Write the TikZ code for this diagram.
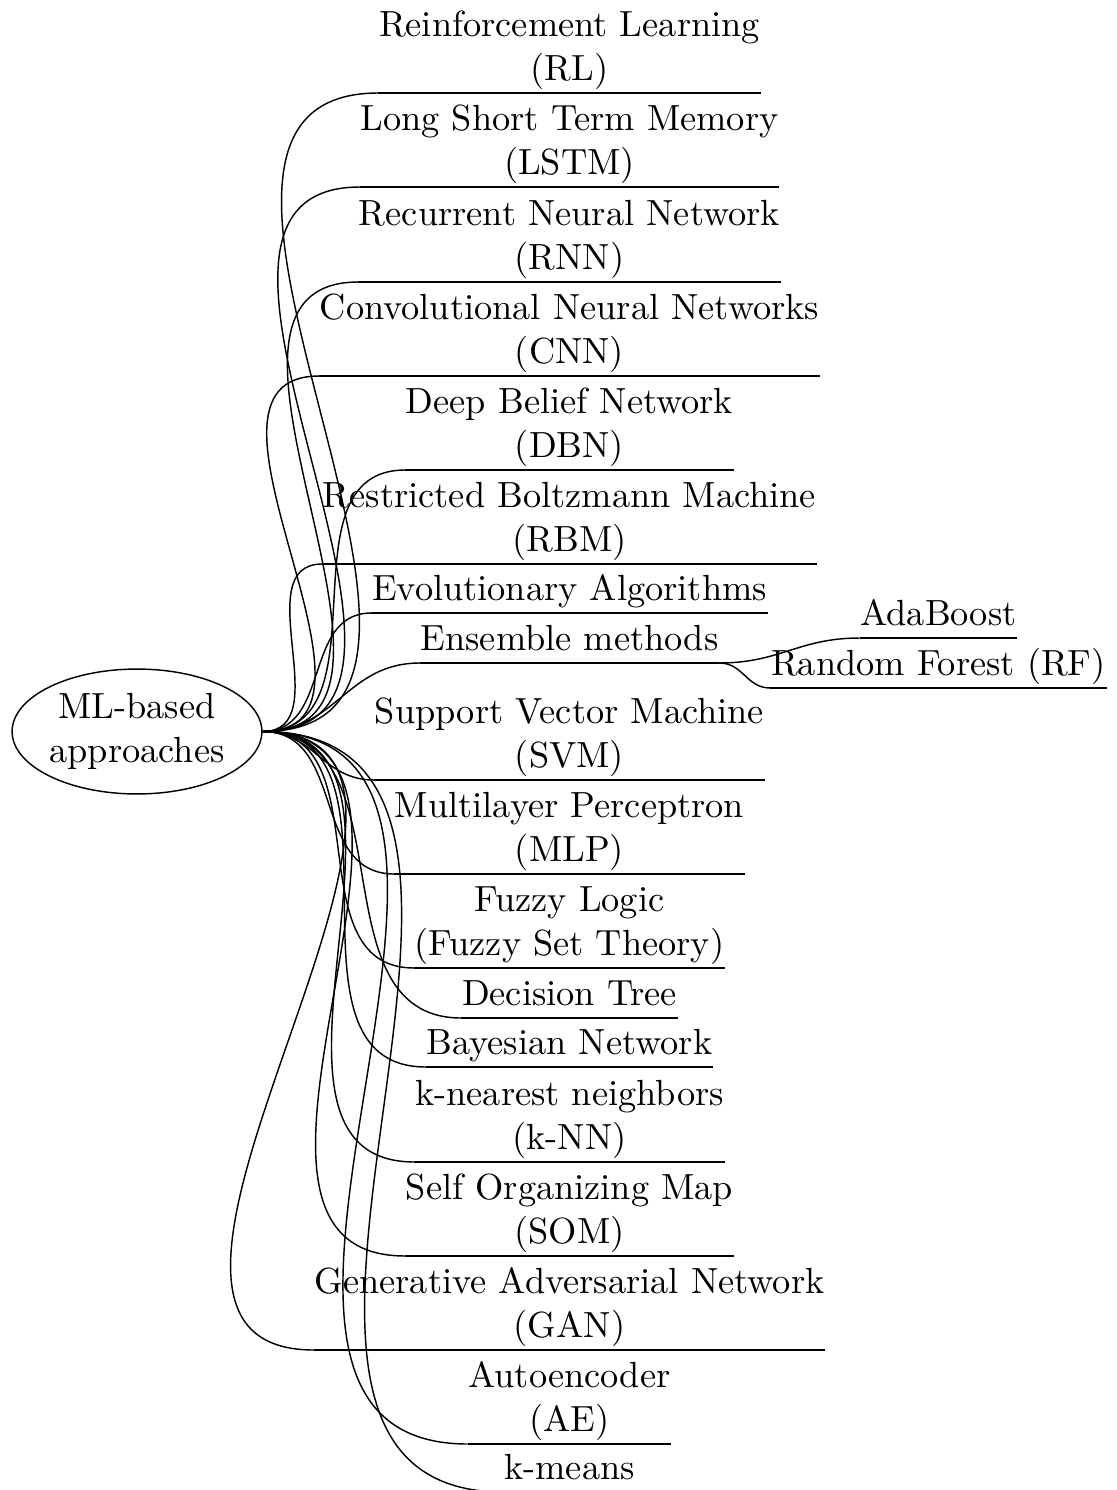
\documentclass[tikz,border=0pt]{standalone}
\usepackage{tikz}
\usetikzlibrary{shapes.geometric}
\begin{document}
\begin{tikzpicture}[
  x=0.2778pt, y=-0.2778pt,
  font=\fontsize{10.1}{12.1}\selectfont,
  leaf/.style={inner sep=0pt, align=center, text depth=3.33pt, anchor=south},
  rootnode/.style={draw, ellipse, inner sep=0pt, align=center,
    minimum width=69.4pt, minimum height=34.7pt},
  branch/.style={out=0, in=180, looseness=1.1}
]
\useasboundingbox (0,0) rectangle (1116,1490);

% root
\node[rootnode] (root) at (137,731.5) {ML-based\\approaches};

% first-level categories
\node[leaf] (rl)   at (569.5,93)   {Reinforcement Learning\\(RL)};
\node[leaf] (lstm) at (569.5,187)  {Long Short Term Memory\\(LSTM)};
\node[leaf] (rnn)  at (569.5,282)  {Recurrent Neural Network\\(RNN)};
\node[leaf] (cnn)  at (569.5,376)  {Convolutional Neural Networks\\(CNN)};
\node[leaf] (dbn)  at (569.5,470)  {Deep Belief Network\\(DBN)};
\node[leaf] (rbm)  at (569.5,564)  {Restricted Boltzmann Machine\\(RBM)};
\node[leaf] (evo)  at (569.5,613)  {Evolutionary Algorithms};
\node[leaf] (ens)  at (569.5,663)  {Ensemble methods};
\node[leaf] (svm)  at (569.5,780)  {Support Vector Machine\\(SVM)};
\node[leaf] (mlp)  at (569.5,874)  {Multilayer Perceptron\\(MLP)};
\node[leaf] (fuz)  at (569.5,968)  {Fuzzy Logic\\(Fuzzy Set Theory)};
\node[leaf] (dt)   at (569.5,1018) {Decision Tree};
\node[leaf] (bn)   at (569.5,1067) {Bayesian Network};
\node[leaf] (knn)  at (569.5,1162) {k-nearest neighbors\\(k-NN)};
\node[leaf] (som)  at (569.5,1256) {Self Organizing Map\\(SOM)};
\node[leaf] (gan)  at (569.5,1350) {Generative Adversarial Network\\(GAN)};
\node[leaf] (ae)   at (569.5,1444) {Autoencoder\\(AE)};
\node[leaf] (km)   at (569.5,1492) {k-means};

% ensemble sub-methods
\node[leaf] (ada) at (938.5,638) {AdaBoost};
\node[leaf] (rf)  at (938.5,688) {Random Forest (RF)};

% underlines
\foreach \n in {rl,lstm,rnn,cnn,dbn,rbm,evo,ens,svm,mlp,fuz,dt,bn,knn,som,gan,ae,km,ada,rf}
  \draw (\n.south west) -- (\n.south east);

% connectors from the root
\foreach \n in {rl,lstm,rnn,cnn,dbn,rbm,evo,ens,svm,mlp,fuz,dt,bn,knn,som,gan,ae,km}
  \draw (root.east) to[branch] (\n.south west);

% connectors from the ensemble node
\foreach \n in {ada,rf}
  \draw (ens.south east) to[branch] (\n.south west);
\end{tikzpicture}
\end{document}
